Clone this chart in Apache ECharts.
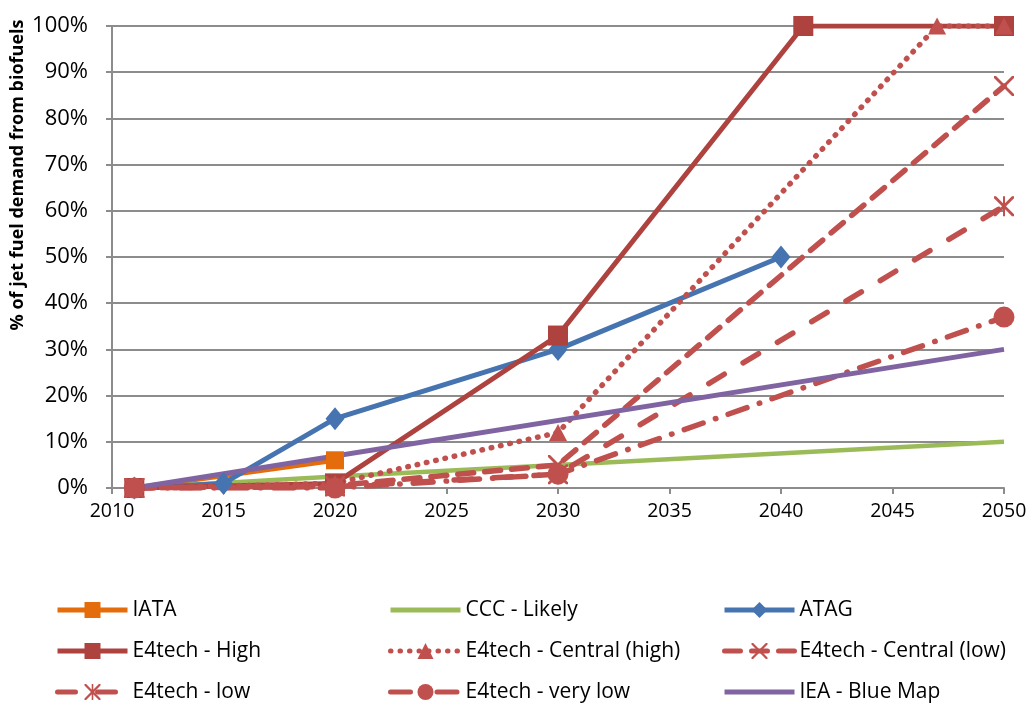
<!DOCTYPE html>
<html>
<head>
<meta charset="utf-8">
<script src="https://cdn.jsdelivr.net/npm/echarts@6/dist/echarts.min.js"></script>
<style>
html,body{margin:0;padding:0;background:#fff;}
#chart{width:1035px;height:706px;}
</style>
</head>
<body>
<div id="chart"></div>
<script>
// ---- data ----
var xTicks = [2010, 2015, 2020, 2025, 2030, 2035, 2040, 2045, 2050];
var yTicks = [0, 10, 20, 30, 40, 50, 60, 70, 80, 90, 100];
var yAxisTitle = '% of jet fuel demand from biofuels';

var seriesNames = ['IATA', 'CCC - Likely', 'ATAG', 'E4tech - High', 'E4tech - Central (high)',
  'E4tech - Central (low)', 'E4tech - low', 'E4tech - very low', 'IEA - Blue Map'];

var iataYears = [2011, 2020];
var iataVals = [0, 6];
var cccYears = [2011, 2020, 2030, 2050];
var cccVals = [0, 2.5, 5, 10];
var atagYears = [2011, 2015, 2020, 2030, 2040];
var atagVals = [0, 1, 15, 30, 50];
var highYears = [2011, 2020, 2030, 2041, 2050];
var highVals = [0, 1, 33, 100, 100];
var centralHighYears = [2011, 2020, 2030, 2047, 2050];
var centralHighVals = [0, 1, 12, 100, 100];
var centralLowYears = [2011, 2020, 2030, 2050];
var centralLowVals = [0, 0.5, 5, 87];
var lowYears = [2011, 2020, 2030, 2050];
var lowVals = [0, 0.3, 3, 61];
var veryLowYears = [2011, 2020, 2030, 2050];
var veryLowVals = [0, 0, 3, 37];
var ieaYears = [2011, 2050];
var ieaVals = [0, 30];

function pairs(xs, ys) { return xs.map(function (x, i) { return [x, ys[i]]; }); }

var RED = '#C0504D';
var xPath = 'path://M0,0 L2,0 L10,8 L18,0 L20,0 L20,2 L12,10 L20,18 L20,20 L18,20 L10,12 L2,20 L0,20 L0,18 L8,10 L0,2 Z';
var starPath = 'path://M0,0 L2,0 L10,8 L18,0 L20,0 L20,2 L12,10 L20,18 L20,20 L18,20 L10,12 L2,20 L0,20 L0,18 L8,10 L0,2 Z M9,0 L11,0 L11,20 L9,20 Z';
var barIcon = 'path://M0,0 L70,0 L70,5 L0,5 Z';
var FONT = '"Open Sans", "Noto Sans", sans-serif';

function mk(name, xs, ys, color, lineType, width, symbol, size, cap) {
  return {
    name: name, type: 'line', data: pairs(xs, ys),
    symbol: symbol, symbolSize: size, showSymbol: symbol !== 'none',
    itemStyle: { color: color, borderWidth: 0 },
    lineStyle: { color: color, width: width, type: lineType, cap: cap || 'butt' },
    animation: false, emphasis: { disabled: true }
  };
}

var series = [
  mk(seriesNames[0], iataYears, iataVals, '#E46C0A', 'solid', 5, 'rect', 18),
  mk(seriesNames[1], cccYears, cccVals, '#9BBB59', 'solid', 4.5, 'none', 0),
  mk(seriesNames[2], atagYears, atagVals, '#4674B0', 'solid', 5, 'diamond', [19, 23]),
  mk(seriesNames[3], highYears, highVals, '#AD423F', 'solid', 5, 'rect', 20),
  mk(seriesNames[4], centralHighYears, centralHighVals, RED, [0.5, 9], 5.5, 'triangle', [18, 17], 'round'),
  mk(seriesNames[5], centralLowYears, centralLowVals, RED, [16, 11], 5.5, xPath, 20, 'round'),
  mk(seriesNames[6], lowYears, lowVals, RED, [18, 22], 5.5, starPath, 20, 'round'),
  mk(seriesNames[7], veryLowYears, veryLowVals, RED, [20, 13, 0.5, 13], 5.5, 'circle', 21, 'round'),
  mk(seriesNames[8], ieaYears, ieaVals, '#8064A2', 'solid', 5, 'none', 0)
];

function legendItem(name) {
  var s = series[seriesNames.indexOf(name)];
  if (s.symbol === 'none') return { name: name, icon: barIcon };
  return { name: name };
}

function legendCol(left, names) {
  return {
    orient: 'vertical', left: left, top: 599, padding: 0, itemWidth: 70, itemHeight: 20, itemGap: 19,
    height: 106,
    data: names.map(legendItem), selectedMode: false, symbolKeepAspect: true,
    lineStyle: { width: 5 },
    textStyle: { fontFamily: FONT, fontSize: 21, color: '#000', lineHeight: 22 }
  };
}

var chart = echarts.init(document.getElementById('chart'));
chart.setOption({
  backgroundColor: '#fff',
  animation: false,
  grid: { left: 112, right: 31, top: 26, bottom: 218, containLabel: false },
  xAxis: {
    type: 'value', min: xTicks[0], max: xTicks[xTicks.length - 1], interval: 5,
    axisLine: { lineStyle: { color: '#8c8c8c', width: 2 } },
    axisTick: { show: true, length: 6, lineStyle: { color: '#8c8c8c', width: 2 } },
    axisLabel: { color: '#000', fontFamily: FONT, fontSize: 19.5, margin: 13, formatter: function (v) { return String(v); } },
    splitLine: { show: false }
  },
  yAxis: {
    type: 'value', min: yTicks[0], max: yTicks[yTicks.length - 1], interval: 10,
    axisLine: { show: true, lineStyle: { color: '#8c8c8c', width: 2 } },
    axisTick: { show: true, length: 6, lineStyle: { color: '#8c8c8c', width: 2 } },
    axisLabel: { color: '#000', fontFamily: FONT, fontSize: 22, margin: 24, formatter: '{value}%' },
    splitLine: { show: true, lineStyle: { color: '#8c8c8c', width: 2 } }
  },
  legend: [
    legendCol(55, [seriesNames[0], seriesNames[3], seriesNames[6]]),
    legendCol(388, [seriesNames[1], seriesNames[4], seriesNames[7]]),
    legendCol(722, [seriesNames[2], seriesNames[5], seriesNames[8]])
  ],
  graphic: [{
    type: 'text', x: 18, y: 175, rotation: Math.PI / 2,
    style: { text: yAxisTitle, fontFamily: FONT, fontWeight: 'bold', fontSize: 18, fill: '#000',
      align: 'center', verticalAlign: 'middle' }
  }],
  series: series
});
</script>
</body>
</html>
